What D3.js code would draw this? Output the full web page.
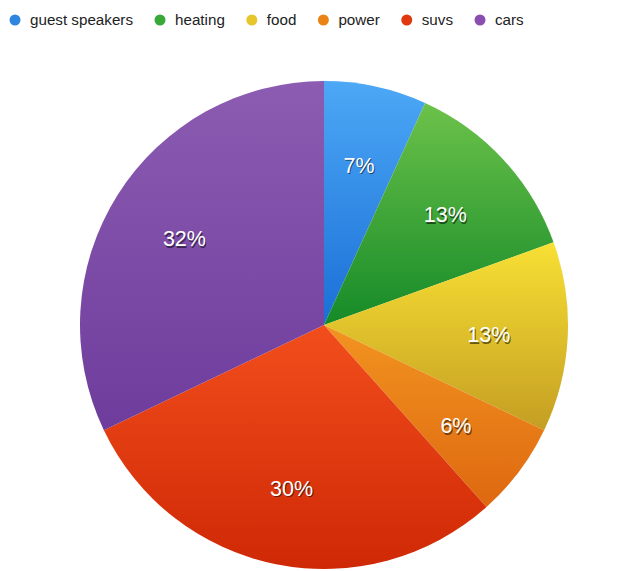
<!DOCTYPE html>
<html><head><meta charset="utf-8">
<script src="https://cdn.jsdelivr.net/npm/d3@7"></script>
<style>body{margin:0;background:#fff}svg{display:block}</style>
</head><body>
<script>
const categories = ["guest speakers","heating","food","power","suvs","cars"];
const values = [6.8, 12.7, 12.6, 6.3, 29.5, 32.1];
const labels = ["7%","13%","13%","6%","30%","32%"];
const dotColors = ["#2f86e0","#38a838","#e6c62a","#ea8216","#e0380f","#8a4eb0"];
const topColors = ["#4da8f6","#6cc24a","#f8e034","#f29420","#f24e1c","#8c5cb2"];
const bottomColors = ["#1a6fd6","#158a28","#c49e22","#de6810","#cf2806","#6e3c9c"];

const W = 637, H = 571;
const svg = d3.select("body").append("svg").attr("width", W).attr("height", H);
const defs = svg.append("defs");
categories.forEach((c, i) => {
  const g = defs.append("linearGradient").attr("id", "g" + i)
    .attr("x1", 0).attr("y1", 0).attr("x2", 0).attr("y2", 1);
  g.append("stop").attr("offset", "0%").attr("stop-color", topColors[i]);
  g.append("stop").attr("offset", "100%").attr("stop-color", bottomColors[i]);
});

const cx = 324, cy = 325, R = 244;
const pie = d3.pie().sort(null).value(d => d)(values);
const arc = d3.arc().innerRadius(0).outerRadius(R);
const labelArc = d3.arc().innerRadius(165).outerRadius(165);
const g = svg.append("g").attr("transform", `translate(${cx},${cy})`);
g.selectAll("path").data(pie).join("path")
  .attr("d", arc).attr("fill", (d, i) => `url(#g${i})`);

const lab = g.selectAll("g.lab").data(pie).join("g").attr("class", "lab")
  .attr("transform", d => { const c = labelArc.centroid(d); return `translate(${c[0]},${c[1] + 1.5})`; });
lab.append("text").attr("x", 1).attr("y", 1.5).attr("text-anchor", "middle").attr("dy", "0.35em")
  .attr("font-family", "Liberation Sans, Arial, sans-serif").attr("font-size", 21.5)
  .attr("fill", "rgba(0,0,0,0.55)").text((d, i) => labels[i]);
lab.append("text").attr("text-anchor", "middle").attr("dy", "0.35em")
  .attr("font-family", "Liberation Sans, Arial, sans-serif").attr("font-size", 21.5)
  .attr("fill", "#fff").text((d, i) => labels[i]);

// legend
const leg = svg.append("g");
let x = 15;
categories.forEach((c, i) => {
  leg.append("circle").attr("cx", x).attr("cy", 20).attr("r", 5.5).attr("fill", dotColors[i]);
  const t = leg.append("text").attr("x", x + 15).attr("y", 20).attr("dy", "0.35em")
    .attr("font-family", "Liberation Sans, Arial, sans-serif").attr("font-size", 15.2)
    .attr("fill", "#222").text(c);
  x = x + 15 + t.node().getComputedTextLength() + 27;
});
</script>
</body></html>
